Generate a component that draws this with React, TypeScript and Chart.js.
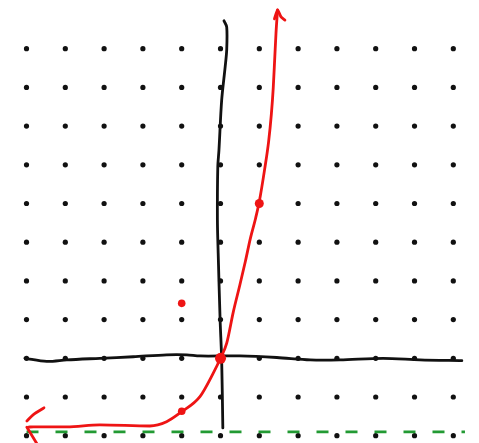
import React, { useEffect, useRef } from "react";
import { Chart, registerables } from "chart.js";

Chart.register(...registerables);

// Dot grid (integer lattice)
const gridX = [-5, -4, -3, -2, -1, 0, 1, 2, 3, 4, 5, 6];
const gridY = [-2, -1, 0, 1, 2, 3, 4, 5, 6, 7, 8];

// Hand-drawn y-axis (x, y)
const yAxisX = [0.09, 0.16, 0.16, 0.12, 0.03, -0.04, -0.07, -0.08, -0.06, -0.01, 0.03, 0.06];
const yAxisY = [8.72, 8.56, 7.97, 7.53, 6.67, 5.38, 4.94, 3.57, 2.72, 0.99, -0.04, -1.8];

// Hand-drawn x-axis (x, y)
const xAxisX = [-5.04, -4.48, -3.96, -3.11, -2.25, -1.39, -0.87, -0.53, 0.5, 1.45, 2.31, 3.08, 4.19, 5.14, 6.22];
const xAxisY = [0, -0.08, -0.04, 0, 0.04, 0.09, 0.09, 0.06, 0.06, 0.02, -0.04, -0.04, 0, -0.04, -0.06];

// Red curve (sketch of y = 2·3^x − 2)
const curveX = [-4.95, -4.82, -3.96, -3.11, -1.82, -1.39, -1.0, -0.53, -0.19, 0.0, 0.16, 0.33, 0.5, 0.64, 0.77, 0.9, 1.0, 1.14, 1.24, 1.31, 1.36, 1.4, 1.43, 1.47];
const curveY = [-1.78, -1.77, -1.77, -1.72, -1.75, -1.64, -1.38, -0.99, -0.39, 0.0, 0.39, 1.2, 1.9, 2.5, 3.1, 3.6, 4.05, 4.9, 5.6, 6.3, 7.0, 7.8, 8.4, 9.0];

// Arrowheads
const topArrowX = [1.39, 1.47, 1.56, 1.66];
const topArrowY = [8.77, 9.0, 8.82, 8.74];
const leftArrowUpX = [-4.99, -4.83, -4.55];
const leftArrowUpY = [-1.62, -1.46, -1.28];
const leftArrowLowX = [-4.99, -4.73];
const leftArrowLowY = [-1.78, -2.21];

// Marked points
const markX = [0, 1, -1, -1];
const markY = [0, 4, -1.37, 1.42];
const markSize = [5.5, 4.5, 3.8, 3.8];

// Asymptote (dashed green)
const asymX = [-5.0, 6.3];
const asymY = [-1.9, -1.9];

const zip = (xs: number[], ys: number[]) => xs.map((x, i) => ({ x, y: ys[i] }));

export default function App() {
  const ref = useRef<HTMLCanvasElement | null>(null);

  useEffect(() => {
    if (!ref.current) return;
    const dots: { x: number; y: number }[] = [];
    gridY.forEach((y) => gridX.forEach((x) => dots.push({ x, y })));

    const RED = "#ee1414";
    const BLACK = "#111111";
    const GREEN = "#229a33";

    const lineDs = (data: any[], color: string, order: number, extra: any = {}) => ({
      type: "line" as const,
      data,
      borderColor: color,
      borderWidth: 2.8,
      pointRadius: 0,
      fill: false,
      tension: 0.3,
      borderCapStyle: "round",
      borderJoinStyle: "round",
      order,
      ...extra,
    });

    const chart = new Chart(ref.current, {
      type: "scatter",
      data: {
        datasets: [
          {
            type: "scatter",
            data: dots,
            pointRadius: 2.6,
            pointBackgroundColor: "#111111",
            pointBorderWidth: 0,
            order: 6,
          } as any,
          lineDs(zip(yAxisX, yAxisY), BLACK, 5),
          lineDs(zip(xAxisX, xAxisY), BLACK, 5),
          lineDs(zip(asymX, asymY), GREEN, 4, { borderDash: [12, 17], tension: 0, borderCapStyle: "butt" }),
          lineDs(zip(curveX, curveY), RED, 3, { cubicInterpolationMode: "monotone" }),
          lineDs(zip(topArrowX, topArrowY), RED, 3, { tension: 0.2 }),
          lineDs(zip(leftArrowUpX, leftArrowUpY), RED, 3),
          lineDs(zip(leftArrowLowX, leftArrowLowY), RED, 3, { tension: 0 }),
          {
            type: "scatter",
            data: zip(markX, markY),
            pointRadius: markSize,
            pointBackgroundColor: RED,
            pointBorderWidth: 0,
            order: 1,
          } as any,
        ],
      },
      options: {
        animation: false,
        responsive: true,
        maintainAspectRatio: false,
        layout: { padding: 0, autoPadding: false },
        plugins: { legend: { display: false }, tooltip: { enabled: false } },
        events: [],
        scales: {
          x: { type: "linear", min: -5.683, max: 6.662, display: false },
          y: { type: "linear", min: -2.189, max: 9.258, display: false },
        },
      } as any,
    });
    return () => chart.destroy();
  }, []);

  return (
    <div style={{ position: "absolute", left: 0, top: 0, width: 479, height: 443, background: "#ffffff" }}>
      <canvas ref={ref} />
    </div>
  );
}
